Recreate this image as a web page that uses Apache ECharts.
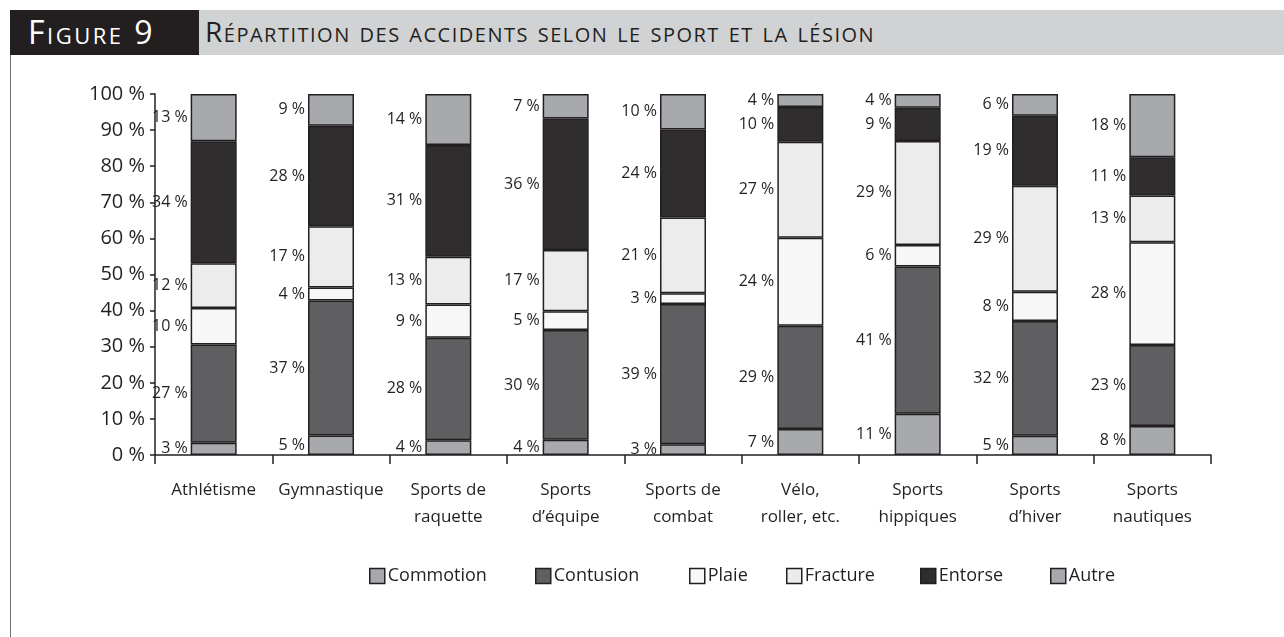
<!DOCTYPE html>
<html>
<head>
<meta charset="utf-8">
<script src="https://cdn.jsdelivr.net/npm/echarts@6/dist/echarts.min.js"></script>
<style>
  html, body { margin: 0; padding: 0; background: #fff; }
  #frame { position: absolute; left: 10px; top: 55px; width: 0; height: 582px; border-left: 1px solid #6d6e71; }
  #fig { position: absolute; left: 10px; top: 10px; width: 171px; height: 45px; background: #231f20; color: #fff;
         font: 32px "Open Sans", sans-serif; font-variant: small-caps; line-height: 43px; padding-left: 18px;
         letter-spacing: 2.5px; }
  #title { position: absolute; left: 199px; top: 10px; right: 0; height: 45px; background: #d1d2d4; color: #231f20;
           font: 28px "Open Sans", sans-serif; font-variant: small-caps; line-height: 43px; padding-left: 6px;
           letter-spacing: 1.5px; }
  #chart { position: absolute; left: 0; top: 0; width: 1284px; height: 637px; }
</style>
</head>
<body>
<div id="chart"></div>
<div id="frame"></div>
<div id="fig">Figure 9</div>
<div id="title">Répartition des accidents selon le sport et la lésion</div>
<script>
    var sports = ['Athlétisme', 'Gymnastique', 'Sports de\nraquette', 'Sports\nd\u2019équipe', 'Sports de\ncombat',
        'Vélo,\nroller, etc.', 'Sports\nhippiques', 'Sports\nd\u2019hiver', 'Sports\nnautiques']
    var commotion = [3.4, 5.4, 4.1, 4.2, 3.0, 7.2, 11.4, 5.3, 8.0]
    var contusion = [27.2, 37.4, 28.4, 30.4, 38.8, 28.6, 40.8, 31.8, 22.5]
    var plaie = [10.1, 3.6, 9.2, 5.2, 3.0, 24.4, 6.0, 8.1, 28.4]
    var fracture = [12.4, 17.0, 13.2, 17.0, 21.0, 26.6, 28.8, 29.4, 13.0]
    var entorse = [33.8, 27.8, 31.0, 36.4, 24.4, 9.6, 9.2, 19.4, 10.6]
    var autre = [13.1, 8.8, 14.1, 6.8, 9.8, 3.6, 3.8, 6.0, 17.5]
    var yTicks = [0, 10, 20, 30, 40, 50, 60, 70, 80, 90, 100]

    var ink = '#231f20'
    var font = '"Open Sans", sans-serif'

    var layers = [
        { name: 'Commotion', data: commotion, color: '#a7a9ac', legendX: 364 },
        { name: 'Contusion', data: contusion, color: '#5f5f62', legendX: 530 },
        { name: 'Plaie', data: plaie, color: '#f7f7f7', legendX: 684 },
        { name: 'Fracture', data: fracture, color: '#ececec', legendX: 781 },
        { name: 'Entorse', data: entorse, color: '#2f2d2e', legendX: 915 },
        { name: 'Autre', data: autre, color: '#a7a9ac', legendX: 1045 }
    ]

    var chart = echarts.init(document.getElementById('chart'))
    chart.setOption({
        animation: false,
        grid: { left: 155, right: 73, top: 94, bottom: 182 },
        xAxis: {
            type: 'category',
            data: sports,
            axisLine: { lineStyle: { color: ink, width: 1.5 } },
            axisTick: { show: true, length: 9, inside: false, lineStyle: { color: ink, width: 1.5 } },
            axisLabel: { color: ink, fontFamily: font, fontSize: 17, lineHeight: 27, margin: 22, interval: 0 }
        },
        yAxis: {
            type: 'value',
            min: yTicks[0],
            max: yTicks[yTicks.length - 1],
            interval: 10,
            splitLine: { show: false },
            axisLine: { show: true, lineStyle: { color: ink, width: 1.5 } },
            axisTick: { show: true, length: 5, lineStyle: { color: ink, width: 1.5 } },
            axisLabel: { color: ink, fontFamily: font, fontSize: 20, margin: 10, formatter: '{value} %' }
        },
        legend: layers.map(function(l) {
            return {
                data: [l.name],
                left: l.legendX,
                top: 562,
                icon: 'rect',
                itemWidth: 15,
                itemHeight: 15,
                selectedMode: false,
                itemStyle: { borderColor: ink, borderWidth: 1.5 },
                textStyle: { color: ink, fontFamily: font, fontSize: 18, padding: [0, 0, 0, -2] }
            }
        }),
        series: layers.map(function(l) {
            return {
                name: l.name,
                type: 'bar',
                stack: 'total',
                barWidth: 46,
                data: l.data,
                itemStyle: { color: l.color, borderColor: ink, borderWidth: 1.5 },
                label: {
                    show: true,
                    position: 'left',
                    distance: 3,
                    color: ink,
                    fontFamily: font,
                    fontSize: 16,
                    formatter: function(p) { return Math.round(p.value) + ' %' }
                }
            }
        })
    })
</script>
</body>
</html>
